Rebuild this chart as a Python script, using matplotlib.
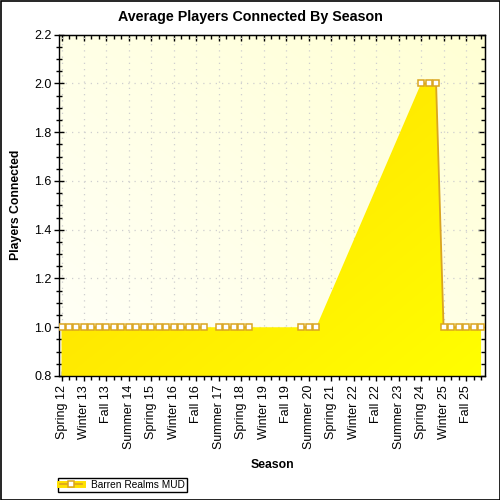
import numpy as np
import matplotlib
matplotlib.use('Agg')
from matplotlib import pyplot as plt
from matplotlib.lines import Line2D
from matplotlib.patches import Rectangle
from matplotlib.ticker import MultipleLocator, FixedLocator, NullFormatter

plt.rcParams['font.family'] = ['Liberation Sans', 'DejaVu Sans']

# seasons from Spring 12 to Spring 26
seasons = ['Winter', 'Spring', 'Summer', 'Fall']
categories = []
for yr in range(12, 27):
    for s in seasons:
        categories.append('%s %d' % (s, yr))
categories = categories[1:58]  # Spring 12 ... Spring 26

# average players (None = no data that season)
players = ([1.0] * 20 + [None] + [1.0] * 5 + [None] * 6 + [1.0] * 3
           + [None] * 13 + [2.0] * 3 + [1.0] * 6)

series_name = 'Barren Realms MUD'
gold_line = '#DAA520'

x = np.arange(len(categories))
y = np.array([np.nan if v is None else v for v in players])
ok = ~np.isnan(y)

fig = plt.figure(figsize=(5, 5), dpi=100)
ax = fig.add_axes([59 / 500, 1 - 376 / 500, 426 / 500, 341.3 / 500])
x0, x1 = -0.334, 56.53
y0, y1 = 0.8, 2.2
ax.set_xlim(x0, x1)
ax.set_ylim(y0, y1)

# plot background gradient
n = 200
u, v = np.meshgrid(np.linspace(0, 1, n), np.linspace(0, 1, n))
t = (u + v) / 2
c_lo = np.array([1.0, 1.0, 0.975])
c_hi = np.array([1.0, 1.0, 0.83])
bg = c_lo + (c_hi - c_lo) * t[..., None]
ax.imshow(bg, extent=(x0, x1, y0, y1), origin='lower', aspect='auto', zorder=0)

ax.grid(True, which='major', color='#CFCFCF', linestyle=(0, (1, 4)), linewidth=0.9)
ax.set_axisbelow(True)

# area fill (connects across missing seasons) with gradient
poly = ax.fill_between(x[ok], y[ok], y0, color='none', linewidth=0)
t2 = (u + (1 - v)) / 2
f_a = np.array([1.0, 0.84, 0.0])
f_b = np.array([1.0, 1.0, 0.0])
fg = f_a + (f_b - f_a) * t2[..., None]
im = ax.imshow(fg, extent=(x0, x1, y0, y1), origin='lower', aspect='auto', zorder=1)
path = poly.get_paths()[0]
im.set_clip_path(path, transform=ax.transData)

# series line + markers
ax.plot(x, y, color=gold_line, linewidth=1.3, zorder=2)
ax.plot(x, y, linestyle='none', marker='s', markersize=5.0, markerfacecolor='white',
        markeredgecolor=gold_line, markeredgewidth=1.1, zorder=3)

# ticks
ax.xaxis.set_major_locator(FixedLocator(x[::3]))
ax.xaxis.set_minor_locator(FixedLocator(x))
ax.set_xticklabels(categories[::3], rotation=90, fontsize=9)
ax.yaxis.set_major_locator(MultipleLocator(0.2))
ax.yaxis.set_minor_locator(MultipleLocator(0.05))
ax.yaxis.set_major_formatter(matplotlib.ticker.FormatStrFormatter('%.1f'))
ax.tick_params(axis='y', which='major', direction='inout', length=7, width=1, labelsize=9, pad=2)
ax.tick_params(axis='y', which='minor', direction='inout', length=4, width=1)
ax.tick_params(axis='x', which='major', direction='inout', length=7, width=1, pad=3)
ax.tick_params(axis='x', which='minor', direction='out', length=3, width=1)
for sp in ax.spines.values():
    sp.set_linewidth(1)

top = ax.secondary_xaxis('top')
top.xaxis.set_major_locator(FixedLocator(x[::3]))
top.xaxis.set_minor_locator(FixedLocator(x))
top.xaxis.set_major_formatter(NullFormatter())
top.tick_params(which='major', direction='in', length=4, width=1)
top.tick_params(which='minor', direction='in', length=3, width=1)

right = ax.secondary_yaxis('right')
right.yaxis.set_major_locator(MultipleLocator(0.2))
right.yaxis.set_minor_locator(MultipleLocator(0.05))
right.yaxis.set_major_formatter(NullFormatter())
right.tick_params(which='major', direction='in', length=5, width=1)
right.tick_params(which='minor', direction='in', length=3, width=1)

fig.text(0.5, 1 - 17 / 500, 'Average Players Connected By Season', ha='center', va='center',
         fontsize=10.3, fontweight='bold')
fig.text(16 / 500, 1 - 205 / 500, 'Players Connected', rotation=90, ha='center', va='center',
         fontsize=8.8, fontweight='bold')
fig.text(272 / 500, 1 - 465 / 500, 'Season', ha='center', va='center',
         fontsize=8.8, fontweight='bold')

# legend
h_area = Line2D([], [], color='#FFE000', linewidth=5)
h_line = Line2D([], [], color=gold_line, linewidth=1.2, marker='s', markersize=4.6,
                markerfacecolor='white', markeredgecolor=gold_line, markeredgewidth=1.1)
leg = fig.legend([(h_area, h_line)], [series_name], loc='lower left',
                 bbox_to_anchor=(58 / 500, 1 - 492 / 500), fontsize=7.3, frameon=True,
                 fancybox=False, framealpha=1, edgecolor='black', borderpad=0.2,
                 handlelength=2.2, handletextpad=0.9, borderaxespad=0)
leg.get_frame().set_linewidth(1)

fig.patches.append(Rectangle((0.001, 0.001), 0.998, 0.998, transform=fig.transFigure,
                             fill=False, edgecolor='black', linewidth=1.2))

plt.savefig('out.png', dpi=100)
